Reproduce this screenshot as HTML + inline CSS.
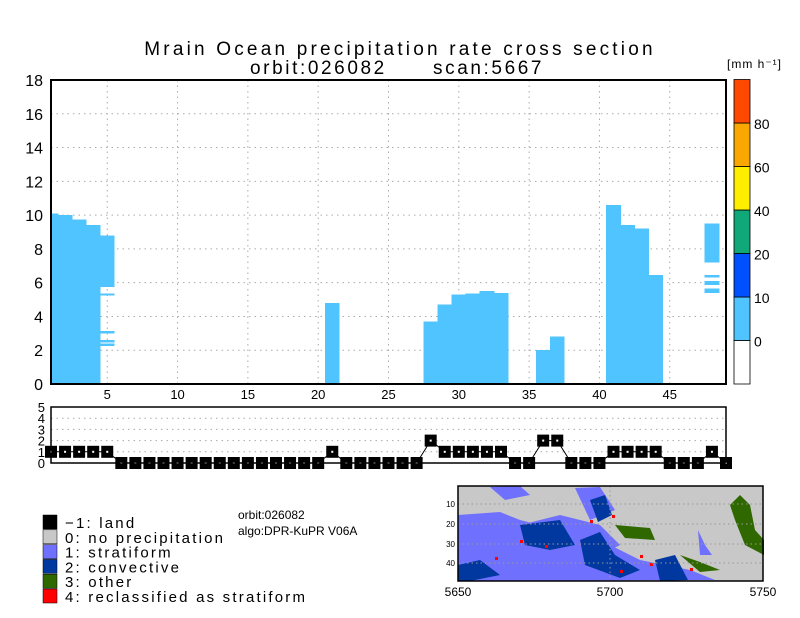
<!DOCTYPE html>
<html><head><meta charset="utf-8"><style>
body{margin:0;background:#fff;width:800px;height:618px;overflow:hidden}
svg{display:block;font-family:"Liberation Sans",sans-serif}
</style></head><body>
<svg id="chart" width="800" height="618" viewBox="0 0 800 618" xmlns="http://www.w3.org/2000/svg">
<text x="400" y="55" text-anchor="middle" font-size="19" letter-spacing="3.2" fill="#000">Mrain Ocean precipitation rate cross section</text>
<text x="250" y="74" font-size="19" letter-spacing="2.6" fill="#000">orbit:026082</text>
<text x="433" y="74" font-size="19" letter-spacing="2.6" fill="#000">scan:5667</text>
<g id="main"></g>
<g id="strip"></g>
<g id="cbar"></g>
<text x="238" y="519" font-size="12">orbit:026082</text>
<text x="238" y="535" font-size="12">algo:DPR-KuPR V06A</text>
<g id="legend"></g>
<g id="map"></g>
</svg>
<script>
const NS="http://www.w3.org/2000/svg";
function mk(p,t,a){const e=document.createElementNS(NS,t);for(const k in a)e.setAttribute(k,a[k]);p.appendChild(e);return e;}
// ---- data ----
const segScan=[1,2,3,4,5,5,5,5,5,21,28,29,30,31,32,33,36,37,41,42,43,43,44,48,48,48,48];
const segBottom=[0,0,0,0,5.75,5.25,3.0,2.45,2.25,0,0,0,0,0,0,0,0,0,0,0,0,7.5,0,7.2,6.3,5.85,5.4];
const segTop=[10.1,10.0,9.75,9.4,8.8,5.35,3.15,2.6,2.4,4.8,3.7,4.7,5.3,5.35,5.5,5.4,2.0,2.8,10.6,9.4,9.2,6.45,6.45,9.5,6.45,6.1,5.65];
const yTicks=[0,2,4,6,8,10,12,14,16,18];
const xTicks=[5,10,15,20,25,30,35,40,45];
const typeScans=[1,2,3,4,5,6,7,8,9,10,11,12,13,14,15,16,17,18,19,20,21,22,23,24,25,26,27,28,29,30,31,32,33,34,35,36,37,38,39,40,41,42,43,44,45,46,47,48,49];
const typeVals=[1,1,1,1,1,0,0,0,0,0,0,0,0,0,0,0,0,0,0,0,1,0,0,0,0,0,0,2,1,1,1,1,1,0,0,2,2,0,0,0,1,1,1,1,0,0,0,1,0];
const stripTicks=[0,1,2,3,4,5];
const cbarLevels=["",0,10,20,40,60,80];
const cbarColors=["#ffffff","#50c4ff","#0050ff","#10a878","#ffee00","#f8a800","#ff4800"];
const legendLabels=["\u22121: land","0: no precipitation","1: stratiform","2: convective","3: other","4: reclassified as stratiform"];
const legendColors=["#000000","#c8c8c8","#7070ff","#0038a0","#306800","#ff0000"];
// ---- axes ----
const X0=51,X1=726,xmin=1,xmax=49;
const sx=v=>X0+(v-xmin)/(xmax-xmin)*(X1-X0);
const MY0=384,MY1=80,sy=v=>MY0-v/18*(MY0-MY1);
const SY0=463,SY1=407,ssy=v=>SY0-v/5*(SY0-SY1);
const main=document.getElementById('main');
yTicks.forEach(t=>{if(t>0&&t<18){const l=mk(main,'line',{x1:X0,x2:X1,y1:sy(t),y2:sy(t),stroke:'#aaa','stroke-dasharray':'1.5,4'});}
 const tx=mk(main,'text',{x:43,y:sy(t)+6,'text-anchor':'end','font-size':16});tx.textContent=t;
 });
xTicks.forEach(t=>{const l=mk(main,'line',{x1:sx(t),x2:sx(t),y1:MY1,y2:MY0,stroke:'#aaa','stroke-dasharray':'1.5,4'});
 
 const tx=mk(main,'text',{x:sx(t),y:399,'text-anchor':'middle','font-size':13});tx.textContent=t;
 });
segScan.forEach((s,i)=>{const a=Math.max(xmin,s-0.5),b=Math.min(xmax,s+0.5);
 const r=mk(main,'rect',{x:sx(a)-0.3,y:sy(segTop[i]),width:sx(b)-sx(a)+0.6,height:sy(segBottom[i])-sy(segTop[i]),fill:'#50c4ff','shape-rendering':'crispEdges'});
 });
const fr=mk(main,'rect',{x:X0,y:MY1,width:X1-X0,height:MY0-MY1,fill:'none',stroke:'#000','stroke-width':2});

// strip
const strip=document.getElementById('strip');
stripTicks.forEach(t=>{if(t>0&&t<5){const l=mk(strip,'line',{x1:X0,x2:X1,y1:ssy(t),y2:ssy(t),stroke:'#aaa','stroke-dasharray':'1.5,4'});}
 const tx=mk(strip,'text',{x:45,y:ssy(t)+5,'text-anchor':'end','font-size':13});tx.textContent=t;
 });
const pl=mk(strip,'polyline',{points:typeScans.map((s,i)=>sx(s)+','+ssy(typeVals[i])).join(' '),fill:'none',stroke:'#000','stroke-width':1});

typeScans.forEach((s,i)=>{const r=mk(strip,'rect',{x:sx(s)-6,y:ssy(typeVals[i])-6,width:12,height:12,fill:'#000'});
 
 const d=mk(strip,'rect',{x:sx(s)-1,y:ssy(typeVals[i])-1,width:2,height:2,fill:'#fff'});
 });
const sf=mk(strip,'rect',{x:X0,y:SY1,width:X1-X0,height:SY0-SY1,fill:'none',stroke:'#000','stroke-width':1.5});

// colorbar
const cb=document.getElementById('cbar');
const CB0=384,CBH=43.5;
cbarColors.forEach((c,i)=>{const r=mk(cb,'rect',{x:734,y:CB0-(i+1)*CBH,width:16,height:CBH,fill:c,stroke:'#000','stroke-width':0.8});
 
 if(i>0){const t=mk(cb,'text',{x:754,y:CB0-i*CBH+6,'font-size':14});t.textContent=cbarLevels[i];
 }});
const un=mk(cb,'text',{x:727,y:68,'font-size':12,'letter-spacing':'1'});un.textContent='[mm h\u207B\u00B9]';

// legend
const lg=document.getElementById('legend');
legendLabels.forEach((l,i)=>{const y=515+i*14.8;
 const r=mk(lg,'rect',{x:43,y:y,width:14,height:14,fill:legendColors[i],stroke:'#000','stroke-width':0.5});
 
 const t=mk(lg,'text',{x:65,y:y+13,'font-size':15,'letter-spacing':'2.2'});t.textContent=l;
 });
// map
const mp=document.getElementById('map');
const MX0=458,MX1=763,MYT=486,MYB=581;
mk(mp,'rect',{x:MX0,y:MYT,width:MX1-MX0,height:MYB-MYT,fill:'#c8c8c8'});
const polys=[
 ['#7070ff','458,515 500,512 520,520 560,530 600,540 640,560 690,570 715,580 458,581'],
 ['#7070ff','470,540 520,525 560,515 600,525 620,545 590,560 540,556 500,560 470,560'],
 ['#0038a0','520,525 560,520 575,545 550,550 525,545'],
 ['#0038a0','458,565 480,560 500,575 470,581 458,581'],
 ['#0038a0','580,540 600,532 615,555 640,570 620,578 585,565'],
 ['#0038a0','655,560 675,555 688,580 660,581'],
 ['#7070ff','575,488 600,487 615,510 590,520'],
 ['#0038a0','590,500 605,495 612,515 598,522'],
 ['#306800','615,525 650,528 655,540 625,538'],
 ['#306800','740,495 750,505 755,530 764,540 764,555 745,545 735,520 730,505'],
 ['#306800','680,555 700,562 720,570 700,572'],
 ['#7070ff','698,530 705,545 712,555 700,555'],
 ['#7070ff','490,487 520,486 530,495 505,500']];
polys.forEach(p=>{const e=mk(mp,'polygon',{points:p[1],fill:p[0]});
 });
[[590,520],[612,515],[545,545],[520,540],[495,557],[620,570],[650,563],[690,568],[640,555]].forEach(p=>{
 const e=mk(mp,'rect',{x:p[0],y:p[1],width:3,height:3,fill:'#ff0000'});
 });
[[504,10],[524,20],[544,30],[563,40]].forEach(p=>{
 mk(mp,'line',{x1:MX0,x2:MX1,y1:p[0],y2:p[0],stroke:'#999','stroke-dasharray':'1.5,3'});
 const t=mk(mp,'text',{x:455,y:p[0]+3,'text-anchor':'end','font-size':8});t.textContent=p[1];
 });
mk(mp,'line',{x1:610,x2:610,y1:MYT,y2:MYB,stroke:'#999','stroke-dasharray':'1.5,3'});
[[MX0,'5650'],[610,'5700'],[MX1,'5750']].forEach(p=>{const t=mk(mp,'text',{x:p[0],y:596,'text-anchor':'middle','font-size':12});t.textContent=p[1];
 });
const mf=mk(mp,'rect',{x:MX0,y:MYT,width:MX1-MX0,height:MYB-MYT,fill:'none',stroke:'#000','stroke-width':1.5});

</script>
</body></html>
